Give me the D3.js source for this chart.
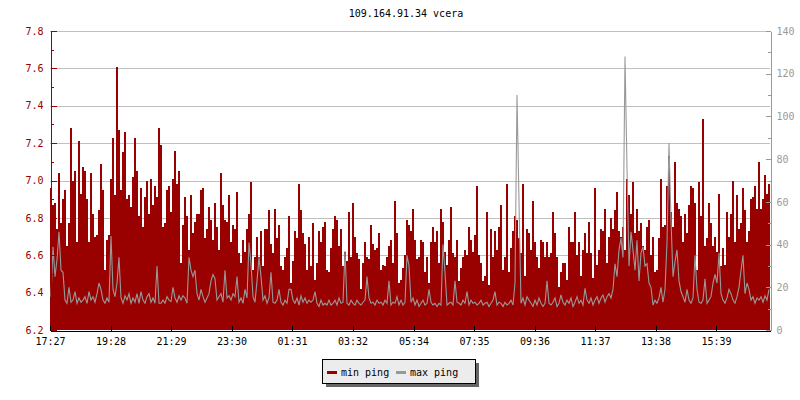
<!DOCTYPE html>
<html><head><meta charset="utf-8">
<script src="https://cdn.jsdelivr.net/npm/d3@7"></script>
<style>body{margin:0;background:#fff}</style></head>
<body><svg id="c" width="800" height="400"></svg>
<script>
// min ping (ms, left axis), one sample every 4 minutes from 17:27
const minPing = [
6.96,6.87,6.88,6.74,7.04,6.77,6.90,6.95,6.65,6.77,
7.28,7.00,7.05,6.67,7.21,6.93,7.07,7.05,6.90,6.67,
7.04,6.82,6.70,6.71,6.84,7.09,6.95,6.52,6.68,6.71,
7.01,7.23,6.92,7.61,7.27,6.95,7.15,7.26,6.90,6.92,
6.86,7.02,7.23,7.05,6.81,6.96,6.75,6.91,7.00,6.82,
7.01,6.87,6.97,6.91,7.28,7.19,6.75,6.77,6.95,6.97,
6.83,7.01,7.16,6.98,7.05,6.56,6.76,6.91,6.81,6.63,
6.92,6.72,6.78,6.82,6.82,6.95,6.96,6.69,6.74,6.86,
6.79,6.68,6.88,6.75,6.63,7.04,6.87,6.79,6.78,6.92,
6.67,6.76,6.74,6.94,6.61,6.56,6.68,6.62,6.74,6.82,
6.99,6.52,6.59,6.70,6.59,6.73,6.54,6.74,6.74,6.84,
6.66,6.61,6.85,6.69,6.76,6.54,6.52,6.59,6.64,6.81,
6.45,6.57,6.73,6.69,6.98,6.84,6.72,6.66,6.52,6.70,
6.54,6.77,6.47,6.56,6.73,6.67,6.75,6.78,6.52,6.51,
6.64,6.74,6.81,6.79,6.65,6.74,6.54,6.62,6.57,6.83,
6.59,6.88,6.70,6.61,6.58,6.42,6.56,6.67,6.59,6.58,
6.76,6.66,6.63,6.64,6.72,6.52,6.55,6.54,6.59,6.65,
6.68,6.56,6.89,6.72,6.45,6.47,6.53,6.60,6.79,6.76,
6.73,6.85,6.68,6.58,6.59,6.68,6.67,6.51,6.59,6.45,
6.67,6.75,6.67,6.73,6.56,6.85,6.78,6.62,6.55,6.68,
6.86,6.61,6.59,6.68,6.46,6.53,6.59,6.63,6.60,6.75,
6.68,6.62,6.71,6.97,6.60,6.56,6.46,6.49,6.83,6.44,
6.74,6.59,6.73,6.63,6.75,6.87,6.52,6.59,6.98,6.51,
6.64,6.73,6.81,6.79,6.69,6.61,6.98,6.49,6.74,6.72,
6.63,6.89,6.67,6.59,6.53,6.68,6.67,6.59,6.67,6.59,
6.61,6.83,6.72,6.59,6.43,6.51,6.56,6.56,6.47,6.75,
6.67,6.67,6.83,6.60,6.67,6.49,6.63,6.72,6.61,6.78,
6.61,6.48,6.96,6.55,6.63,6.74,6.73,6.85,6.56,6.70,
6.80,6.74,6.84,6.94,6.73,6.70,6.75,6.63,7.01,6.92,
6.82,6.99,6.72,6.85,6.73,6.77,6.65,6.63,6.75,6.79,
6.60,6.70,6.51,6.52,6.69,7.01,6.75,6.76,6.97,7.13,
6.83,6.75,7.10,6.88,6.85,6.81,6.67,6.82,6.72,6.87,
6.97,6.96,6.88,6.52,6.99,6.81,7.33,6.65,6.69,6.88,
6.77,6.65,6.70,6.62,6.93,6.54,6.64,6.55,6.83,6.70,
6.82,7.00,6.67,6.92,6.74,6.77,6.96,6.84,6.67,6.73,
6.90,6.91,6.97,6.85,7.10,6.85,6.90,7.03,6.93,6.98
];
// max ping (ms, right axis)
const maxPing = [
15.6,39,25,33,46,28,27,14,12.5,20,
13,14,18,12.5,15,13,14,15.6,12.5,18,
14,15.6,13,17,22,19,14,12.5,15,13,
44,19,15.6,22,34,15,12.5,16,14,17,
12.5,15,13,17,12.5,18,14,12.5,15.6,17,
13,15,12.5,30,12.5,12.5,14,12.5,15.6,14,
13.3,20,15,13,16,14,16,15,12.5,34,
28,25,28,17,14,19,15.6,13,15,17,
23,26,24,14,15.6,17,13,28,15,16,
14,17,15.6,25,13,15,12.5,19,15,41,
31,15.6,13,23,34,25,14,16,12.5,15,
27,13,12.5,14,19,13,11.7,14,12.5,19,
19,14,12.5,15,11.7,16,13,15,12.5,14,
13,14,18,12.5,11,14,11.7,12.5,11.7,14,
11.7,12.5,14,11.7,15,12.5,13,37,12.5,11.7,
14,12.5,11.7,14,12.5,11.7,13,14,25,15,
12.5,13,11.7,14,12.5,13,11.7,14,12.5,23,
11.7,13,12.5,15.6,11.7,14,11.7,13,35,30,
13,15,11.7,14,11,12.5,14,11.7,12.5,19,
13,11.7,12.5,11,12.5,11.7,40,27,11.7,12.5,
13,11.7,23,13,12.5,11.7,14,12.5,18,11.7,
14,12.5,13,11.7,12.5,14,11.7,12.5,13,11,
12.5,14,18,11.7,13,12.5,11,13,11.7,12.5,
14,11.7,22,110,60,12.5,15,11.7,15.6,14,
12.5,11,14,11.7,15,12.5,11,12.5,23,12.5,
11.7,13,15,11,12.5,16.4,13,11.7,14,12.5,
15,11,13,15.6,12.5,14,11.7,19.5,14,12.5,
15,11.7,14,15.6,12.5,15,16.4,13,15.6,17,
15,19,31,25,37.5,43,34,128,76,30,
46,37.5,28,42,23,36,39,30,31,22,
20,11.7,14,12.5,15,20,13,19,41,87.5,
51,25,32,37.5,23,18,15.6,13,19,14,
12.5,15,35,19,13,12.5,14,24,12.5,14,
15.6,22,26,22,36,17,14,12.5,15,19,
17,14,12.5,15.6,20,28,35,17,22,19,
14,15.6,12.5,15,14,15.6,13,16,14,19
];
const sampleMinutes = 4;
const spanMinutes = 1440;
const tickMinutes = [0,121,242,363,484,605,727,848,969,1090,1211,1332];
const tickLabels = ["17:27","19:28","21:29","23:30","01:31","03:32","05:34","07:35","09:36","11:37","13:38","15:39"];
const leftTicks = [6.2,6.4,6.6,6.8,7.0,7.2,7.4,7.6,7.8];
const leftMinor = [6.3,6.5,6.7,6.9,7.1,7.3,7.5,7.7];
const rightTicks = [0,20,40,60,80,100,120,140];
const rightMinor = [10,30,50,70,90,110,130];
const title = "109.164.91.34 vcera";
const seriesNames = ["min ping","max ping"];

const RED = "#990000", GRAY = "#999999";
const font = "'DejaVu Sans Mono', 'Liberation Mono', monospace";
const L = 50, R = 770, T = 31, B = 330;
const svg = d3.select("#c");
svg.append("rect").attr("width",800).attr("height",400).attr("fill","#fff");

const x = d3.scaleLinear().domain([0, spanMinutes]).range([L, R]);
const yL = d3.scaleLinear().domain([6.2, 7.8]).range([B, T]);
const yR = d3.scaleLinear().domain([0, 140]).range([B, T]);

// grid
svg.append("g").selectAll("line").data(leftTicks.slice(1)).join("line")
  .attr("x1", L).attr("x2", R)
  .attr("y1", d => Math.round(yL(d)) + 0.5).attr("y2", d => Math.round(yL(d)) + 0.5)
  .attr("stroke", "#c0c0c0").attr("stroke-width", 1);

// min ping area
const redPts = minPing.map((v, i) => [i * sampleMinutes, v]);
redPts.push([spanMinutes, minPing[minPing.length - 1]]);
svg.append("path").datum(redPts)
  .attr("d", d3.area().curve(d3.curveStepAfter).x(d => x(d[0])).y0(yL(6.2)).y1(d => yL(d[1])))
  .attr("fill", RED).attr("shape-rendering", "crispEdges");

// max ping line
const grayPts = maxPing.map((v, i) => [i * sampleMinutes + sampleMinutes / 2, v]);
svg.append("path").datum(grayPts)
  .attr("d", d3.line().curve(d3.curveLinear).x(d => x(d[0])).y(d => yR(d[1])))
  .attr("fill", "none").attr("stroke", GRAY).attr("stroke-width", 1.1);

// bottom axis
const gx = svg.append("g").attr("transform", `translate(0,${B + 0.5})`)
  .call(d3.axisBottom(x).tickValues(tickMinutes).tickFormat((d, i) => tickLabels[i]).tickSizeInner(-5).tickSizeOuter(0).tickPadding(7));
gx.select(".domain").attr("stroke", "#000").attr("shape-rendering", "crispEdges");
gx.selectAll(".tick line").attr("stroke", "#000").attr("shape-rendering", "crispEdges");
gx.selectAll("text").attr("font-family", font).attr("font-size", 10).attr("fill", "#000");

// left axis
const gl = svg.append("g").attr("transform", `translate(${L + 0.5},0)`)
  .call(d3.axisLeft(yL).tickValues(leftTicks).tickFormat(d3.format(".1f")).tickSizeInner(-6).tickSizeOuter(0).tickPadding(7));
gl.select(".domain").attr("stroke", RED).attr("shape-rendering", "crispEdges");
gl.selectAll(".tick line").attr("stroke", RED).attr("shape-rendering", "crispEdges");
gl.selectAll("text").attr("font-family", font).attr("font-size", 10).attr("fill", RED);
const glm = svg.append("g").attr("transform", `translate(${L + 0.5},0)`)
  .call(d3.axisLeft(yL).tickValues(leftMinor).tickFormat("").tickSizeInner(-3).tickSizeOuter(0));
glm.select(".domain").remove();
glm.selectAll(".tick line").attr("stroke", RED).attr("shape-rendering", "crispEdges");

// right axis
const gr = svg.append("g").attr("transform", `translate(${R + 0.5},0)`)
  .call(d3.axisRight(yR).tickValues(rightTicks).tickSizeInner(-5).tickSizeOuter(0).tickPadding(6));
gr.select(".domain").attr("stroke", GRAY).attr("shape-rendering", "crispEdges");
gr.selectAll(".tick line").attr("stroke", GRAY).attr("shape-rendering", "crispEdges");
gr.selectAll("text").attr("font-family", font).attr("font-size", 10).attr("fill", GRAY);
const grm = svg.append("g").attr("transform", `translate(${R + 0.5},0)`)
  .call(d3.axisRight(yR).tickValues(rightMinor).tickFormat("").tickSizeInner(-3).tickSizeOuter(0));
grm.select(".domain").remove();
grm.selectAll(".tick line").attr("stroke", GRAY).attr("shape-rendering", "crispEdges");

// title
svg.append("text").attr("x", 406).attr("y", 17).attr("text-anchor", "middle")
  .attr("font-family", font).attr("font-size", 10).attr("fill", "#000").text(title);

// legend
const lg = svg.append("g");
lg.append("rect").attr("x", 326).attr("y", 363).attr("width", 153).attr("height", 24).attr("fill", "#666");
lg.append("rect").attr("x", 322.5).attr("y", 359.5).attr("width", 153).attr("height", 24)
  .attr("fill", "#ececec").attr("stroke", "#000").attr("stroke-width", 1);
const items = [{name: seriesNames[0], color: RED, x: 327}, {name: seriesNames[1], color: GRAY, x: 396}];
items.forEach(it => {
  lg.append("line").attr("x1", it.x).attr("x2", it.x + 10).attr("y1", 372.5).attr("y2", 372.5)
    .attr("stroke", it.color).attr("stroke-width", 3);
  lg.append("text").attr("x", it.x + 14).attr("y", 375.5).attr("font-family", font).attr("font-size", 10)
    .attr("fill", "#000").text(it.name);
});
</script></body></html>
